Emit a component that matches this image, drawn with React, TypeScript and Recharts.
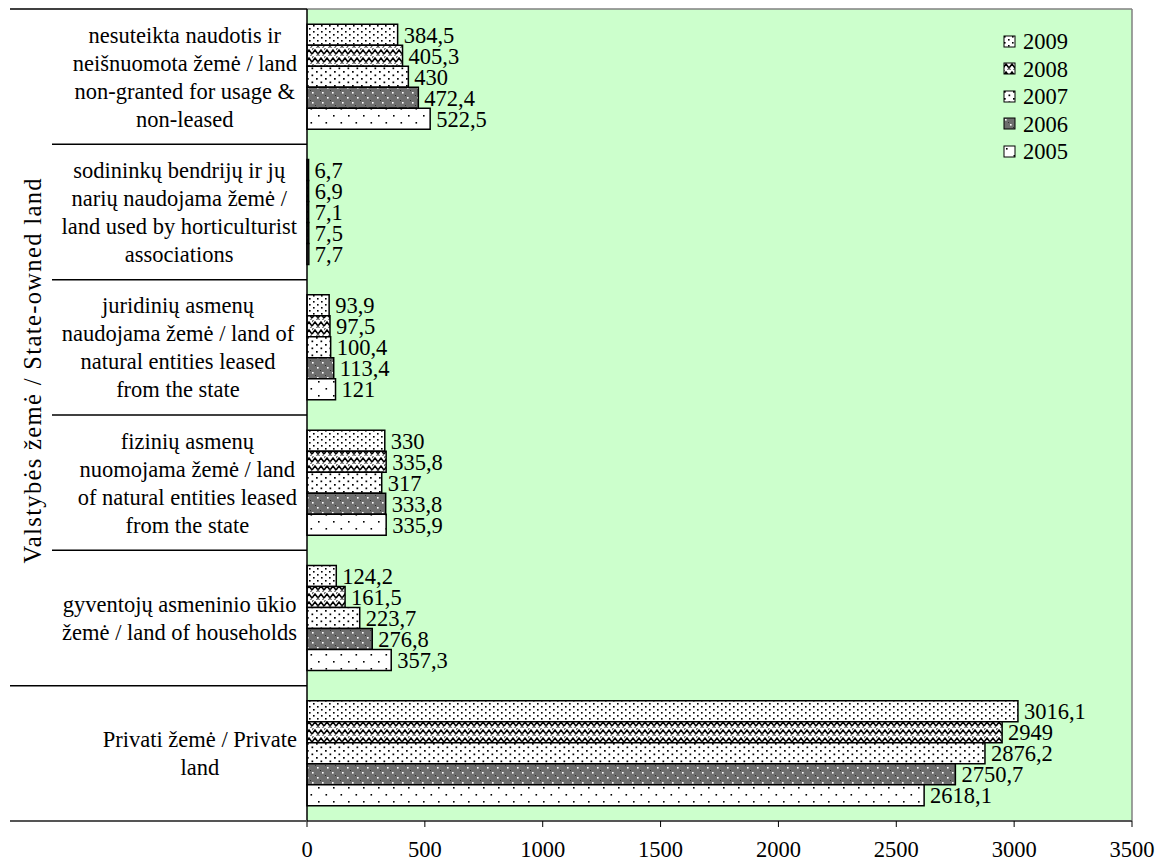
import React from 'react';
import { BarChart, Bar, XAxis, YAxis, CartesianGrid, LabelList } from 'recharts';

const categories = [
  'nesuteikta naudotis ir\nneišnuomota žemė / land\nnon-granted for usage &\nnon-leased',
  'sodininkų bendrijų ir jų\nnarių naudojama žemė /\nland used by horticulturist\nassociations',
  'juridinių asmenų\nnaudojama žemė /  land of\nnatural entities leased\nfrom the state',
  'fizinių asmenų\nnuomojama žemė / land\nof natural entities leased\nfrom the state',
  'gyventojų asmeninio ūkio\nžemė / land of households',
  'Privati žemė / Private\nland',
];
const years = ['2009', '2008', '2007', '2006', '2005'];
const v2009 = [384.5, 6.7, 93.9, 330, 124.2, 3016.1];
const v2008 = [405.3, 6.9, 97.5, 335.8, 161.5, 2949];
const v2007 = [430, 7.1, 100.4, 317, 223.7, 2876.2];
const v2006 = [472.4, 7.5, 113.4, 333.8, 276.8, 2750.7];
const v2005 = [522.5, 7.7, 121, 335.9, 357.3, 2618.1];
const xTicks = [0, 500, 1000, 1500, 2000, 2500, 3000, 3500];
const groupLabel = 'Valstybės žemė / State-owned land';

const seriesValues = [v2009, v2008, v2007, v2006, v2005];
const data = categories.map((cat, i) => {
  const row: any = { cat };
  years.forEach((y, k) => { row['y' + y] = seriesValues[k][i]; });
  return row;
});

const FONT = '"Liberation Serif", "Times New Roman", serif';
const FS = 22.5;
const W = 1164;
const H = 862;
const PLOT_LEFT = 307;
const PLOT_TOP = 9;
const PLOT_RIGHT = 1132;
const PLOT_BOTTOM = 821;
const LINE_H = 28;
const BAND = (PLOT_BOTTOM - PLOT_TOP) / categories.length;

let ctx: CanvasRenderingContext2D | null = null;
const measure = (s: string) => {
  if (!ctx) ctx = document.createElement('canvas').getContext('2d');
  if (!ctx) return s.length * FS * 0.45;
  ctx.font = `${FS}px "Liberation Serif"`;
  return ctx.measureText(s).width;
};

const fmt = (v: any) => String(v).replace('.', ',');

const CategoryTick = (props: any) => {
  const { y, payload, index } = props;
  const lines = String(payload.value).split('\n');
  const widest = Math.max(...lines.map(measure));
  const cx = 297 - widest / 2;
  const first = y - ((lines.length - 1) * LINE_H) / 2;
  const last = index === categories.length - 1;
  const lineStart = index === 0 || last ? 10 : 52;
  return (
    <g>
      <line x1={lineStart} x2={PLOT_LEFT} y1={y - BAND / 2} y2={y - BAND / 2} stroke="#000" strokeWidth={1.5} />
      {last && (
        <line x1={10} x2={PLOT_LEFT} y1={y + BAND / 2} y2={y + BAND / 2} stroke="#555" strokeWidth={2} />
      )}
      {index === 0 && (
        <text
          x={32}
          y={371}
          transform="rotate(-90 32 371)"
          textAnchor="middle"
          dy="0.35em"
          fontFamily={FONT}
          fontSize={24.5}
          fill="#000"
          textLength={385}
          lengthAdjust="spacing"
        >
          {groupLabel}
        </text>
      )}
      <text textAnchor="middle" fontFamily={FONT} fontSize={FS} fill="#000">
        {lines.map((l, i) => (
          <tspan key={i} x={cx} y={first + i * LINE_H} dy="0.35em">
            {l}
          </tspan>
        ))}
      </text>
    </g>
  );
};

const Patterns = () => (
  <defs>
    <pattern id="p2009" width="8" height="6" patternUnits="userSpaceOnUse">
      <rect width="8" height="6" fill="#fff" />
      <rect x="1" y="1" width="1.6" height="1.6" fill="#000" />
      <rect x="5" y="4" width="1.6" height="1.6" fill="#000" />
    </pattern>
    <pattern id="p2008" width="12" height="8" patternUnits="userSpaceOnUse">
      <rect width="12" height="8" fill="#fff" />
      <path d="M0,6 L3,2 L6,6 L9,2 L12,6" fill="none" stroke="#000" strokeWidth="1.6" />
      <path d="M0,2 L1.5,0 M10.5,8 L12,6 M4.5,8 L6,6 L7.5,8" fill="none" stroke="#555" strokeWidth="1.2" />
    </pattern>
    <pattern id="p2007" width="9" height="7" patternUnits="userSpaceOnUse">
      <rect width="9" height="7" fill="#fff" />
      <rect x="1" y="1" width="1.7" height="1.7" fill="#000" />
      <rect x="5.5" y="4.5" width="1.7" height="1.7" fill="#000" />
    </pattern>
    <pattern id="p2006" width="10" height="10" patternUnits="userSpaceOnUse">
      <rect width="10" height="10" fill="#6e6e6e" />
      <rect x="0" y="0" width="1" height="1" fill="#333" />
      <rect x="5" y="5" width="1" height="1" fill="#333" />
      <rect x="2" y="2" width="1.6" height="1.6" fill="#fff" />
      <rect x="7" y="7" width="1.6" height="1.6" fill="#fff" />
    </pattern>
    <pattern id="p2005" width="15" height="14" patternUnits="userSpaceOnUse">
      <rect width="15" height="14" fill="#fff" />
      <rect x="3" y="3" width="1.6" height="1.6" fill="#000" />
      <rect x="10.5" y="10" width="1.6" height="1.6" fill="#000" />
    </pattern>
  </defs>
);

const LegendBox = () => (
  <div
    style={{
      position: 'absolute',
      left: 1003,
      top: 28,
      fontFamily: FONT,
      fontSize: FS,
      lineHeight: '27.5px',
    }}
  >
    {years.map((y) => (
      <div key={y} style={{ display: 'flex', alignItems: 'center', height: 27.5 }}>
        <svg width={14} height={14} style={{ marginRight: 6 }}>
          <rect x={1} y={1} width={11} height={11} fill={`url(#p${y})`} stroke="#000" strokeWidth={1} />
        </svg>
        <span>{y}</span>
      </div>
    ))}
  </div>
);

export default function App() {
  return (
    <div style={{ position: 'absolute', left: 0, top: 0, width: W, height: H, background: '#fff' }}>
      <BarChart
        width={W}
        height={H}
        data={data}
        layout="vertical"
        margin={{ top: PLOT_TOP, right: W - PLOT_RIGHT, left: 0, bottom: 0 }}
        barCategoryGap="11.2%"
        barGap={0}
      >
        <Patterns />
        <CartesianGrid
          fill="#CCFFCC"
          stroke="#808080"
          strokeWidth={1.5}
          horizontalPoints={[PLOT_TOP]}
          verticalPoints={[PLOT_RIGHT]}
        />
        <XAxis
          type="number"
          domain={[0, 3500]}
          ticks={xTicks}
          height={H - PLOT_BOTTOM}
          tickSize={6}
          tickMargin={14}
          axisLine={{ stroke: '#555', strokeWidth: 2 }}
          tickLine={{ stroke: '#000' }}
          tick={{ fill: '#000', fontFamily: FONT, fontSize: FS }}
        />
        <YAxis
          type="category"
          dataKey="cat"
          width={PLOT_LEFT}
          interval={0}
          axisLine={{ stroke: '#000', strokeWidth: 1.5 }}
          tickLine={false}
          tick={<CategoryTick />}
        />
        {years.map((y) => (
          <Bar
            key={y}
            dataKey={'y' + y}
            name={y}
            fill={`url(#p${y})`}
            stroke="#000"
            strokeWidth={1.5}
            isAnimationActive={false}
          >
            <LabelList
              dataKey={'y' + y}
              position="right"
              offset={6}
              formatter={fmt}
              fill="#000"
              stroke="none"
              fontFamily={FONT}
              fontSize={FS}
            />
          </Bar>
        ))}
      </BarChart>
      <LegendBox />
    </div>
  );
}
